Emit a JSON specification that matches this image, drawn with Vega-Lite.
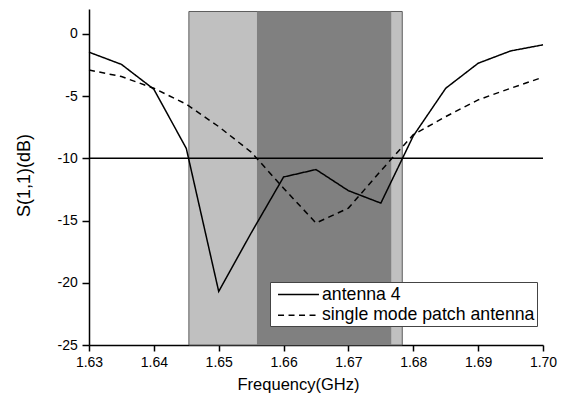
{
  "$schema": "https://vega.github.io/schema/vega-lite/v6.json",
  "width": 454,
  "height": 336,
  "autosize": "none",
  "padding": {"left": 89, "top": 9, "right": 23, "bottom": 53},
  "background": "white",
  "config": {
    "view": {"stroke": null},
    "font": "Liberation Sans",
    "axis": {
      "grid": false,
      "domainColor": "black",
      "domainWidth": 1.5,
      "tickColor": "black",
      "tickWidth": 1.5,
      "labelColor": "black",
      "labelFont": "Liberation Sans",
      "labelFontSize": 14,
      "labelFlush": false,
      "titleColor": "black",
      "titleFont": "Liberation Sans",
      "titleFontWeight": "normal",
      "labelOverlap": false
    }
  },
  "datasets": {
    "curves": [
      {"freq": 1.630, "s11": -1.47, "series": "antenna 4"},
      {"freq": 1.635, "s11": -2.45, "series": "antenna 4"},
      {"freq": 1.640, "s11": -4.45, "series": "antenna 4"},
      {"freq": 1.645, "s11": -9.2, "series": "antenna 4"},
      {"freq": 1.650, "s11": -20.7, "series": "antenna 4"},
      {"freq": 1.655, "s11": -16.0, "series": "antenna 4"},
      {"freq": 1.660, "s11": -11.5, "series": "antenna 4"},
      {"freq": 1.665, "s11": -10.9, "series": "antenna 4"},
      {"freq": 1.670, "s11": -12.6, "series": "antenna 4"},
      {"freq": 1.675, "s11": -13.6, "series": "antenna 4"},
      {"freq": 1.680, "s11": -8.2, "series": "antenna 4"},
      {"freq": 1.685, "s11": -4.37, "series": "antenna 4"},
      {"freq": 1.690, "s11": -2.36, "series": "antenna 4"},
      {"freq": 1.695, "s11": -1.37, "series": "antenna 4"},
      {"freq": 1.700, "s11": -0.88, "series": "antenna 4"},
      {"freq": 1.630, "s11": -2.9, "series": "single mode patch antenna"},
      {"freq": 1.635, "s11": -3.43, "series": "single mode patch antenna"},
      {"freq": 1.640, "s11": -4.37, "series": "single mode patch antenna"},
      {"freq": 1.645, "s11": -5.65, "series": "single mode patch antenna"},
      {"freq": 1.650, "s11": -7.45, "series": "single mode patch antenna"},
      {"freq": 1.655, "s11": -9.5, "series": "single mode patch antenna"},
      {"freq": 1.660, "s11": -12.4, "series": "single mode patch antenna"},
      {"freq": 1.665, "s11": -15.2, "series": "single mode patch antenna"},
      {"freq": 1.670, "s11": -14.0, "series": "single mode patch antenna"},
      {"freq": 1.675, "s11": -11.0, "series": "single mode patch antenna"},
      {"freq": 1.680, "s11": -8.1, "series": "single mode patch antenna"},
      {"freq": 1.685, "s11": -6.65, "series": "single mode patch antenna"},
      {"freq": 1.690, "s11": -5.3, "series": "single mode patch antenna"},
      {"freq": 1.695, "s11": -4.37, "series": "single mode patch antenna"},
      {"freq": 1.700, "s11": -3.48, "series": "single mode patch antenna"}
    ]
  },
  "layer": [
    {
      "data": {"values": [{"start": 1.6454, "end": 1.6783, "low": -25, "high": 1.8}]},
      "mark": {"type": "rect", "color": "#c0c0c0", "stroke": "#5c5c5c", "strokeWidth": 1},
      "encoding": {
        "x": {"field": "start", "type": "quantitative", "scale": {"domain": [1.63, 1.70], "nice": false, "zero": false}},
        "x2": {"field": "end"},
        "y": {"field": "low", "type": "quantitative", "scale": {"domain": [-25, 2], "nice": false, "zero": false}},
        "y2": {"field": "high"}
      }
    },
    {
      "data": {"values": [{"start": 1.6559, "end": 1.6766, "low": -25, "high": 1.8}]},
      "mark": {"type": "rect", "color": "#808080"},
      "encoding": {
        "x": {"field": "start", "type": "quantitative"},
        "x2": {"field": "end"},
        "y": {"field": "low", "type": "quantitative"},
        "y2": {"field": "high"}
      }
    },
    {
      "data": {"values": [{"threshold": -10}]},
      "mark": {"type": "rule", "color": "black", "strokeWidth": 1.5},
      "encoding": {
        "y": {"field": "threshold", "type": "quantitative"}
      }
    },
    {
      "data": {"name": "curves"},
      "mark": {"type": "line", "color": "black", "strokeWidth": 1.5},
      "encoding": {
        "x": {
          "field": "freq", "type": "quantitative",
          "axis": {
            "title": "Frequency(GHz)",
            "titleFontSize": 16.5,
            "titleX": 209,
            "titleY": 44,
            "titleBaseline": "alphabetic",
            "titleAlign": "center",
            "values": [1.63, 1.635, 1.64, 1.645, 1.65, 1.655, 1.66, 1.665, 1.67, 1.675, 1.68, 1.685, 1.69, 1.695, 1.70],
            "labelExpr": "round(datum.value*1000) % 10 === 0 ? format(datum.value, '.2f') : ''",
            "tickSize": 6,
            "tickDash": {"condition": {"test": "round(datum.value*1000) % 10 === 0", "value": [6, 0]}, "value": [3, 10]},
            "labelPadding": 4.5
          }
        },
        "y": {
          "field": "s11", "type": "quantitative",
          "axis": {
            "title": "S(1,1)(dB)",
            "titleFontSize": 18,
            "titleX": -59.5,
            "titleY": 166,
            "titleAngle": -90,
            "titleBaseline": "alphabetic",
            "titleAlign": "center",
            "values": [-25, -22.5, -20, -17.5, -15, -12.5, -10, -7.5, -5, -2.5, 0],
            "labelExpr": "datum.value % 5 === 0 ? '' + datum.value : ''",
            "tickSize": 7,
            "tickDash": {"condition": {"test": "datum.value % 5 === 0", "value": [7, 0]}, "value": [4, 10]},
            "labelPadding": 4.7
          }
        },
        "strokeDash": {
          "field": "series", "type": "nominal",
          "scale": {"domain": ["antenna 4", "single mode patch antenna"], "range": [[1, 0], [6, 4.5]]},
          "legend": {
            "title": null,
            "orient": "none",
            "legendX": 181,
            "legendY": 273,
            "fillColor": "white",
            "strokeColor": "#444444",
            "padding": 2,
            "symbolOffset": 16,
            "symbolType": "M-2.1,0H2.1",
            "symbolSize": 380,
            "symbolStrokeWidth": 1.5,
            "symbolStrokeColor": "black",
            "symbolFillColor": "transparent",
            "labelFontSize": 17.7,
            "labelFont": "Liberation Sans",
            "labelColor": "black",
            "labelOffset": 13,
            "labelLimit": 0,
            "rowPadding": 0.7
          }
        }
      }
    }
  ]
}
